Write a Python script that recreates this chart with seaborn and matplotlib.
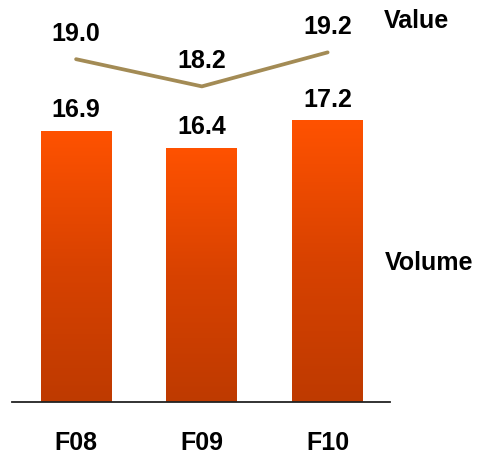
import numpy as np
import matplotlib
matplotlib.use("Agg")
import matplotlib.pyplot as plt
from matplotlib.colors import LinearSegmentedColormap
import seaborn as sns

categories = ["F08", "F09", "F10"]
volume = [16.9, 16.4, 17.2]
value = [19.0, 18.2, 19.2]

sns.set_theme(style="white")
plt.rcParams["font.family"] = ["Liberation Sans", "DejaVu Sans"]
plt.rcParams["font.weight"] = "bold"

W, H = 478, 455
fig = plt.figure(figsize=(W / 100, H / 100), dpi=100)
left_px, right_px, base_px = 11.7, 390.0, 402.0
ax = fig.add_axes([left_px / W, 1 - base_px / H, (right_px - left_px) / W, base_px / H])

ymin, ymax = 8.92, 20.74
bar_w = 0.563

sns.barplot(x=categories, y=volume, ax=ax, width=bar_w, color="#FF5000",
            saturation=1, edgecolor="none", linewidth=0)
ax.set_xlim(-0.512, 2.496)
ax.set_ylim(ymin, ymax)

# vertical orange gradient inside each bar
grad_cmap = LinearSegmentedColormap.from_list("bar_grad", ["#BE3A00", "#D84200", "#FF5200"])
grad = np.linspace(0, 1, 256).reshape(-1, 1)
for patch in ax.patches:
    x0 = patch.get_x()
    w = patch.get_width()
    top = patch.get_y() + patch.get_height()
    im = ax.imshow(grad, cmap=grad_cmap, aspect="auto", origin="lower",
                   extent=[x0, x0 + w, ymin, top], zorder=patch.get_zorder() + 0.1,
                   interpolation="bicubic")
    im.set_clip_path(patch)
ax.set_xlim(-0.512, 2.496)
ax.set_ylim(ymin, ymax)

# value line
xs = np.arange(len(categories))
sns.lineplot(x=xs, y=value, ax=ax, color="#A38B55", linewidth=2.7, zorder=5)
for ln in ax.lines:
    ln.set_solid_capstyle("round")

# labels
for i, v in enumerate(volume):
    ax.annotate(f"{v:.1f}", (i, v), xytext=(0, 10), textcoords="offset points",
                ha="center", va="baseline", fontsize=18, fontweight="bold", color="black")
for i, v in enumerate(value):
    ax.annotate(f"{v:.1f}", (i, v), xytext=(0, 13), textcoords="offset points",
                ha="center", va="baseline", fontsize=18, fontweight="bold", color="black",
                annotation_clip=False)

for s in ["top", "left", "right"]:
    ax.spines[s].set_visible(False)
ax.spines["bottom"].set_color("#222222")
ax.spines["bottom"].set_linewidth(1.3)
ax.set_yticks([])
ax.set_xticks(xs)
ax.set_xticklabels(categories, fontsize=18, fontweight="bold", color="black")
ax.tick_params(axis="x", length=0, pad=21)
ax.set_xlabel("")
ax.set_ylabel("")
if ax.get_legend():
    ax.get_legend().remove()

fig.text(416 / W, 1 - 21 / H, "Value", ha="center", va="center",
         fontsize=18, fontweight="bold", color="black")
fig.text(429 / W, 1 - 263 / H, "Volume", ha="center", va="center",
         fontsize=18, fontweight="bold", color="black")

fig.savefig("out.png", dpi=100)
